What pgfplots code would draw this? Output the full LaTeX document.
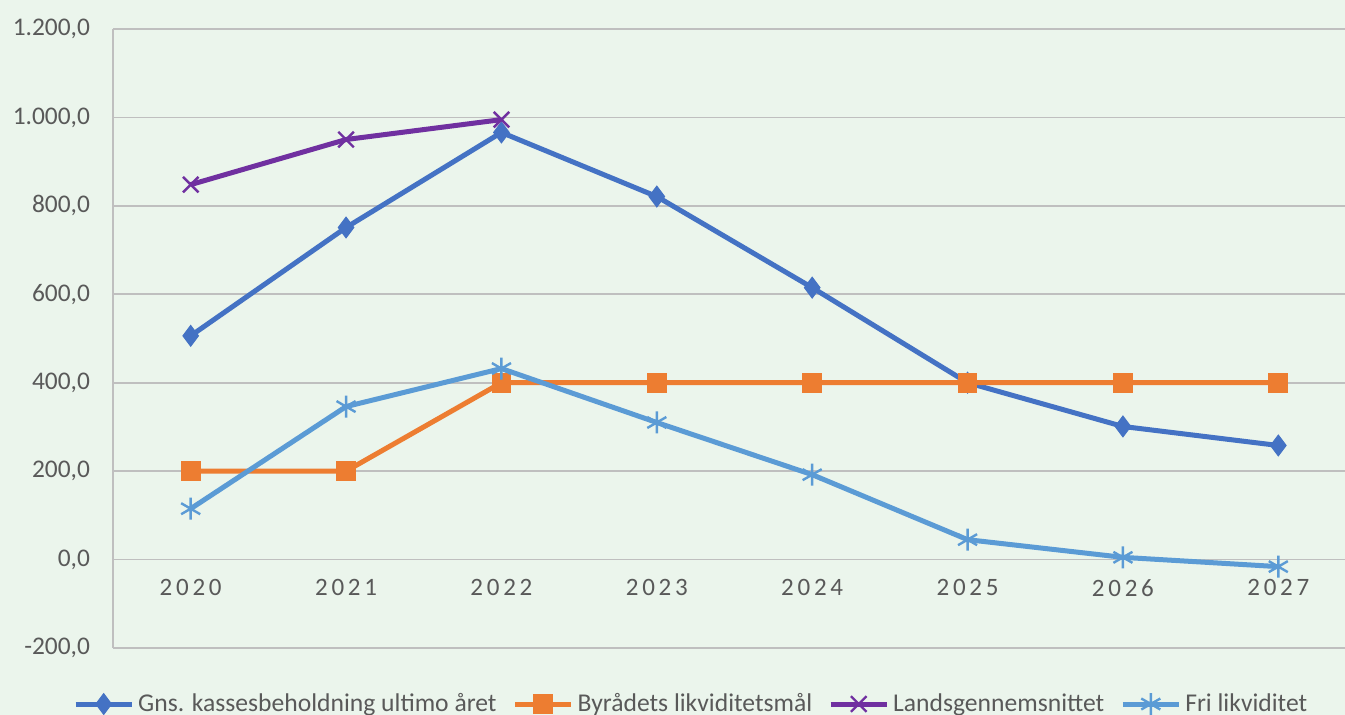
\documentclass[border=0pt]{standalone}
\usepackage{pgfplots}
\pgfplotsset{compat=1.18}
\usepackage{fontspec}
\setmainfont{Carlito}
\newfontfamily\spacedfont[LetterSpace=15]{Carlito}
\definecolor{bg}{HTML}{EBF5EC}
\definecolor{gridc}{HTML}{BFBFBF}
\definecolor{tickc}{HTML}{595959}
\definecolor{cblue}{HTML}{4472C4}
\definecolor{corange}{HTML}{ED7D31}
\definecolor{cpurple}{HTML}{7030A0}
\definecolor{clblue}{HTML}{5B9BD5}
\begin{document}
\begin{tikzpicture}[x=1pt,y=1pt]
\clip (0,0) rectangle (672.5,357.5);
\fill[bg] (0,0) rectangle (672.5,357.5);
\begin{axis}[
  at={(56.5pt,33.5pt)}, anchor=south west,
  scale only axis, width=621.5pt, height=309.5pt,
  xmin=-0.5, xmax=7.5, ymin=-200, ymax=1200,
  axis y line=left, axis x line=middle,
  axis line style={-, draw=gridc, line width=0.9pt},
  hide obscured y ticks=false, hide obscured x ticks=false,
  major tick length=0,
  xtick={0,...,7},
  xticklabels={2020,2021,2022,2023,2024,2025,2026,2027},
  xticklabel style={font=\spacedfont\fontsize{12.5}{15}\selectfont, text=tickc, yshift=-6.5pt},
  ytick={-200,0,...,1200},
  ymajorgrids, grid style={draw=gridc, line width=0.8pt},
  yticklabel style={font=\fontsize{12.7}{15}\selectfont, text=tickc, xshift=-8pt,
    /pgf/number format/.cd, fixed, fixed zerofill, precision=1, 1000 sep={.}, dec sep={,}, assume math mode=true},
  legend columns=4,
  legend style={at={(0.466,-0.0905)}, anchor=center, draw=none, fill=none,
    font=\fontsize{12.8}{15}\selectfont, text=tickc,
    /tikz/every even column/.append style={column sep=6pt}},
  legend image code/.code={\draw[#1, mark repeat=2, mark phase=2] plot coordinates {(0pt,0pt) (14pt,0pt) (28pt,0pt)};},
  clip=false,
]
\addplot[cblue, line width=2.5pt, mark=diamond*, mark size=5.2pt, mark options={solid, fill=cblue, line width=0.5pt}]
  coordinates {(0,506) (1,751) (2,966) (3,821) (4,615) (5,400) (6,301) (7,258)};
\addlegendentry{Gns. kassesbeholdning ultimo året}
\addplot[corange, line width=2.5pt, mark=square*, mark size=4.7pt, mark options={solid, fill=corange, line width=0.5pt}]
  coordinates {(0,200) (1,200) (2,400) (3,400) (4,400) (5,400) (6,400) (7,400)};
\addlegendentry{Byrådets likviditetsmål}
\addplot[cpurple, line width=2.5pt, mark=x, mark size=5.5pt, mark options={solid, line width=1.2pt}]
  coordinates {(0,848) (1,950) (2,995)};
\addlegendentry{Landsgennemsnittet}
\addplot[clblue, line width=2.5pt, mark=asterisk, mark size=5.5pt, mark options={solid, line width=1.2pt}]
  coordinates {(0,115) (1,346) (2,432) (3,310) (4,192) (5,45) (6,5) (7,-16)};
\addlegendentry{Fri likviditet}
\end{axis}
\end{tikzpicture}
\end{document}
